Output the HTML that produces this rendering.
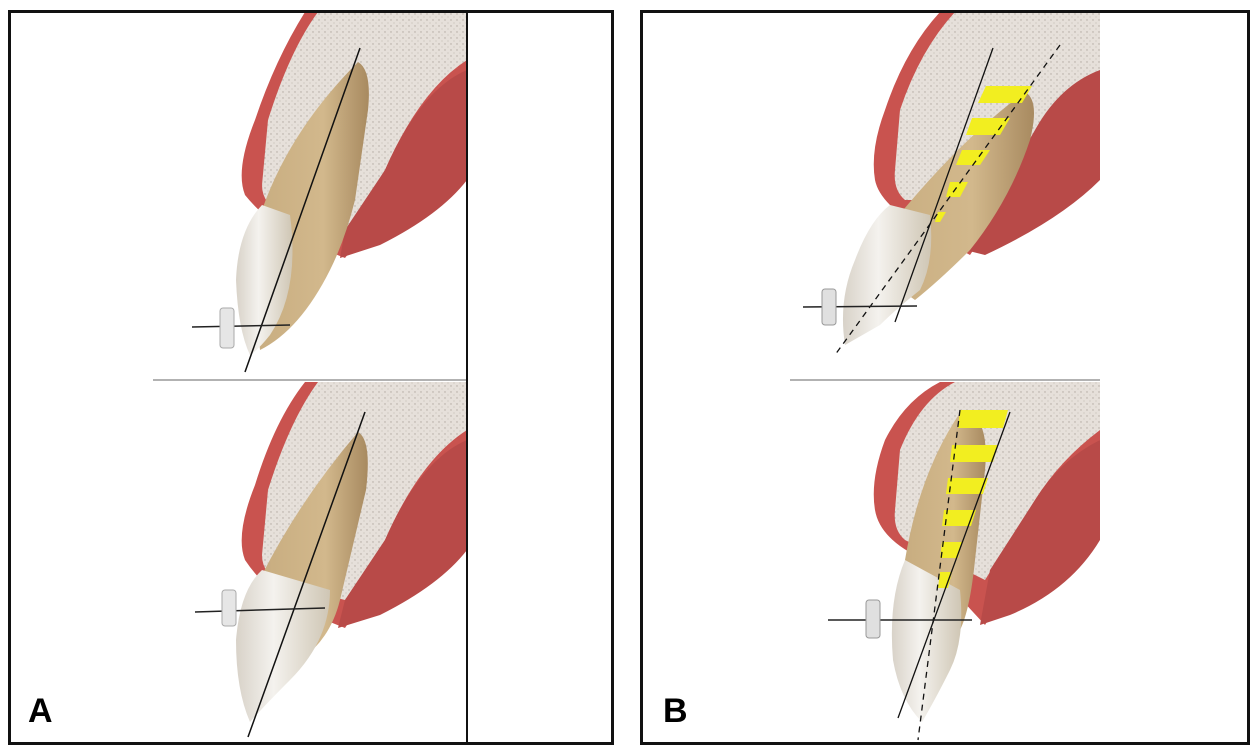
<!DOCTYPE html>
<html><head><style>
body{margin:0;background:#fff;width:1256px;height:756px;overflow:hidden}
svg{display:block}
text{font-family:"Liberation Sans",sans-serif;font-weight:bold}
</style></head><body>
<svg width="1256" height="756" viewBox="0 0 1256 756">
<defs>
<linearGradient id="root" x1="0" y1="0" x2="1" y2="0">
<stop offset="0" stop-color="#c8ad80"/><stop offset="0.6" stop-color="#d2b88c"/><stop offset="1" stop-color="#a88a60"/></linearGradient>
<linearGradient id="crown" x1="0" y1="0" x2="1" y2="0">
<stop offset="0" stop-color="#d8d2c8"/><stop offset="0.4" stop-color="#f4f2ee"/><stop offset="1" stop-color="#cfc6b4"/></linearGradient>
<pattern id="bone" width="6" height="6" patternUnits="userSpaceOnUse">
<rect width="6" height="6" fill="#e6e0da"/><circle cx="1" cy="2" r="0.7" fill="#b0a8a0"/><circle cx="4" cy="5" r="0.6" fill="#c4bcb4"/></pattern>
</defs>
<rect width="1256" height="756" fill="#fff"/>

<!-- Panel A upper -->
<g>
<path d="M305,12 L467,12 L467,100 L345,258 L300,240 Q265,220 245,195 Q235,170 255,120 Q275,60 305,12 Z" fill="#c9534f"/>
<path d="M318,12 L467,12 L467,60 Q420,90 385,170 L345,235 L285,215 Q262,205 262,185 L268,120 Q290,50 318,12 Z" fill="url(#bone)"/>
<path d="M467,70 Q420,90 385,170 L345,230 L340,258 L380,245 Q440,215 467,180 Z" fill="#b84a48"/>
<path d="M358,62 Q372,70 368,110 L355,200 Q345,240 330,270 Q300,330 260,350 L255,300 L262,210 Q290,130 358,62 Z" fill="url(#root)"/>
<path d="M262,205 L290,215 Q300,290 270,335 Q258,350 250,355 Q238,330 236,280 Q238,230 262,205 Z" fill="url(#crown)"/>
<line x1="360" y1="48" x2="245" y2="372" stroke="#111" stroke-width="1.5"/>
<line x1="192" y1="327" x2="290" y2="325" stroke="#222" stroke-width="1.5"/>
<rect x="220" y="308" width="14" height="40" rx="3" fill="#e6e6e6" stroke="#aaa"/>
</g>

<line x1="153" y1="380" x2="467" y2="380" stroke="#999" stroke-width="1.5"/>

<!-- Panel A lower -->
<g>
<path d="M305,382 L467,382 L467,440 L345,628 L300,610 Q265,590 245,560 Q235,535 255,485 Q275,420 305,382 Z" fill="#c9534f"/>
<path d="M318,382 L467,382 L467,430 Q420,460 385,540 L345,600 L285,585 Q262,575 262,555 L268,490 Q290,420 318,382 Z" fill="url(#bone)"/>
<path d="M467,440 Q420,460 385,540 L345,600 L338,628 L380,615 Q440,585 467,550 Z" fill="#b84a48"/>
<path d="M358,432 Q372,440 366,490 L340,600 Q330,640 300,660 L262,650 L262,575 Q300,500 358,432 Z" fill="url(#root)"/>
<path d="M262,570 L330,590 Q330,640 290,680 Q265,705 250,722 Q236,690 236,640 Q240,590 262,570 Z" fill="url(#crown)"/>
<line x1="365" y1="412" x2="248" y2="737" stroke="#111" stroke-width="1.5"/>
<line x1="195" y1="612" x2="325" y2="608" stroke="#222" stroke-width="1.5"/>
<rect x="222" y="590" width="14" height="36" rx="3" fill="#e6e6e6" stroke="#aaa"/>
</g>
<line x1="467" y1="12" x2="467" y2="744" stroke="#111" stroke-width="2"/>

<!-- Panel B upper -->
<g>
<path d="M940,12 L1100,12 L1100,60 L970,255 L925,230 Q880,205 875,180 Q870,150 885,110 Q905,50 940,12 Z" fill="#c9534f"/>
<path d="M955,12 L1100,12 L1100,75 Q1060,100 1030,150 L990,200 L905,200 Q893,190 895,170 L900,110 Q920,50 955,12 Z" fill="url(#bone)"/>
<path d="M1100,70 Q1060,85 1035,130 L1000,190 L965,250 L985,255 Q1060,220 1100,180 Z" fill="#b84a48"/>
<path d="M1025,92 Q1040,100 1030,140 Q1010,200 970,250 Q940,280 915,300 L880,275 L895,220 Q960,140 1025,92 Z" fill="url(#root)"/>
<path d="M890,205 L930,215 Q935,260 920,290 Q895,310 880,325 L845,345 Q838,300 855,260 Q870,220 890,205 Z" fill="url(#crown)"/>
<g fill="#f2ee20">
<polygon points="986,86 1032,86 1022,103 978,103"/>
<polygon points="972,118 1010,118 1000,135 966,135"/>
<polygon points="962,150 990,150 980,165 956,165"/>
<polygon points="950,182 968,182 960,197 946,197"/>
<polygon points="938,212 946,212 940,222 935,222"/>
</g>
<line x1="993" y1="48" x2="895" y2="322" stroke="#111" stroke-width="1.3"/>
<line x1="1060" y1="45" x2="835" y2="355" stroke="#111" stroke-width="1.3" stroke-dasharray="6,5"/>
<line x1="803" y1="307" x2="917" y2="306" stroke="#222" stroke-width="1.5"/>
<rect x="822" y="289" width="14" height="36" rx="3" fill="#e0e0e0" stroke="#999"/>
</g>

<line x1="790" y1="380" x2="1100" y2="380" stroke="#999" stroke-width="1.5"/>

<!-- Panel B lower -->
<g>
<path d="M940,382 L1100,382 L1100,440 L985,625 L925,560 Q880,540 875,510 Q870,480 885,440 Q905,400 940,382 Z" fill="#c9534f"/>
<path d="M955,382 L1100,382 L1100,430 Q1060,460 1035,500 L985,580 L905,540 Q893,530 895,510 L900,450 Q920,400 955,382 Z" fill="url(#bone)"/>
<path d="M1100,440 Q1060,460 1035,500 L990,570 L980,625 L1010,615 Q1070,590 1100,540 Z" fill="#b84a48"/>
<path d="M962,410 Q990,415 985,470 L975,560 Q970,610 960,630 L915,620 L905,560 Q920,470 962,410 Z" fill="url(#root)"/>
<path d="M905,560 L960,590 Q965,640 950,670 Q935,700 922,722 Q900,700 893,660 Q888,600 905,560 Z" fill="url(#crown)"/>
<g fill="#f2ee20">
<polygon points="960,410 1008,410 1003,428 958,428"/>
<polygon points="952,445 998,445 993,462 950,462"/>
<polygon points="948,478 988,478 983,494 946,494"/>
<polygon points="944,510 976,510 971,526 942,526"/>
<polygon points="942,542 962,542 958,558 940,558"/>
<polygon points="940,572 952,572 948,588 938,588"/>
</g>
<line x1="1010" y1="412" x2="898" y2="718" stroke="#111" stroke-width="1.3"/>
<line x1="960" y1="410" x2="918" y2="740" stroke="#111" stroke-width="1.3" stroke-dasharray="6,5"/>
<line x1="828" y1="620" x2="972" y2="620" stroke="#222" stroke-width="1.5"/>
<rect x="866" y="600" width="14" height="38" rx="3" fill="#e0e0e0" stroke="#999"/>
</g>

<!-- borders -->
<rect x="9.5" y="11.5" width="603" height="732" fill="none" stroke="#111" stroke-width="3"/>
<rect x="641.5" y="11.5" width="607" height="732" fill="none" stroke="#111" stroke-width="3"/>
<text x="28" y="722" font-size="34">A</text>
<text x="663" y="722" font-size="34">B</text>
</svg>
</body></html>
